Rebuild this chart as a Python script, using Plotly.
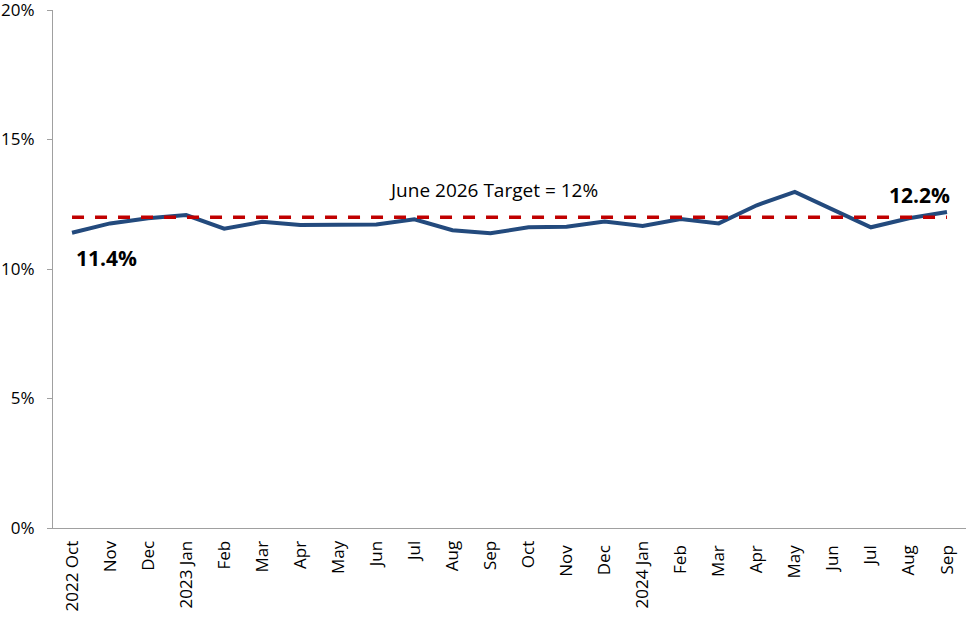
import plotly.graph_objects as go

categories = ["2022 Oct", "Nov", "Dec", "2023 Jan", "Feb", "Mar", "Apr", "May", "Jun", "Jul",
              "Aug", "Sep", "Oct", "Nov ", "Dec ", "2024 Jan", "Feb ", "Mar ", "Apr ", "May ",
              "Jun ", "Jul ", "Aug ", "Sep "]
values = [11.4, 11.76, 11.96, 12.08, 11.56, 11.82, 11.7, 11.7, 11.72, 11.92,
          11.5, 11.38, 11.61, 11.63, 11.83, 11.66, 11.93, 11.76, 12.46, 12.98,
          12.28, 11.61, 11.96, 12.2]
target = [12.0] * len(categories)
y_ticks = [0, 5, 10, 15, 20]
y_tick_labels = ["0%", "5%", "10%", "15%", "20%"]

font = "Open Sans, Noto Sans, DejaVu Sans, sans-serif"

fig = go.Figure()
fig.add_trace(go.Scatter(x=categories, y=values, mode="lines",
                         line=dict(color="#234A7D", width=4),
                         showlegend=False, cliponaxis=False))
fig.add_trace(go.Scatter(x=categories, y=target, mode="lines",
                         line=dict(color="#C00000", width=3.5, dash="12px,11px"),
                         hoverinfo="skip", showlegend=False, cliponaxis=False))

fig.add_annotation(x=categories[0], y=values[0], text="<b>11.4%</b>", showarrow=False,
                   xanchor="left", yanchor="top", xshift=2, yshift=-9,
                   font=dict(family=font, size=21, color="black"))
fig.add_annotation(x=categories[-1], y=values[-1], text="<b>12.2%</b>", showarrow=False,
                   xanchor="right", yanchor="bottom", xshift=5, yshift=1,
                   font=dict(family=font, size=21, color="black"))
fig.add_annotation(x=categories[11], y=12, text="June 2026 Target = 12%", showarrow=False,
                   xanchor="center", yanchor="bottom", yshift=12, xshift=3,
                   font=dict(family=font, size=19, color="black"))

fig.update_layout(
    width=966, height=621,
    margin=dict(l=53, r=0, t=10, b=93, autoexpand=False),
    paper_bgcolor="white", plot_bgcolor="white",
    font=dict(family=font, size=17, color="black"),
    xaxis=dict(type="category", range=[-0.5, len(categories) - 0.5],
               tickangle=-90, showline=True, linecolor="#A0A0A0", linewidth=1,
               showgrid=False, ticks="", tickfont=dict(size=17), automargin=False,
               ticklabeloverflow="allow", ticklabelstandoff=5),
    yaxis=dict(range=[0, 20], tickvals=y_ticks, ticktext=y_tick_labels,
               showline=True, linecolor="#A0A0A0", linewidth=1,
               ticks="outside", ticklen=5, tickcolor="#A0A0A0",
               showgrid=False, zeroline=False, tickfont=dict(size=17), automargin=False,
               ticklabeloverflow="allow", ticklabelstandoff=9),
)

fig.write_html("out.html", config={"displayModeBar": False},
               post_script="document.body.style.margin='0';")
